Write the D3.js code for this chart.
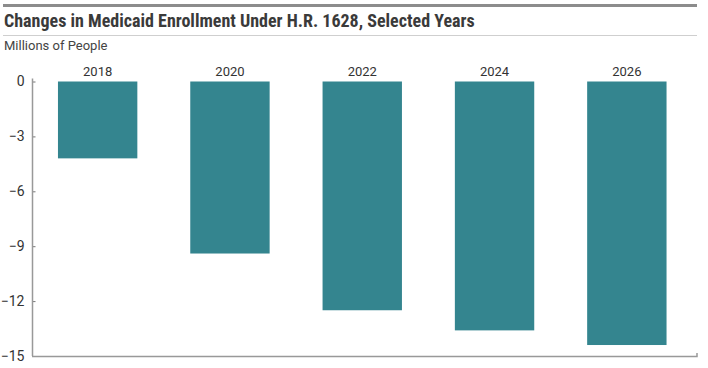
<!DOCTYPE html>
<html><head><meta charset="utf-8">
<script src="https://cdn.jsdelivr.net/npm/d3@7"></script>
<style>body{margin:0;background:#fff}svg{display:block}</style>
</head><body><svg id="c" width="708" height="368"></svg>
<script>
const years = ["2018","2020","2022","2024","2026"];
const changes = [-4.2,-9.4,-12.5,-13.6,-14.4];
const yTicks = [0,-3,-6,-9,-12,-15];
const title = "Changes in Medicaid Enrollment Under H.R. 1628, Selected Years";
const unitLabel = "Millions of People";

const svg = d3.select("#c");
svg.append("rect").attr("x",3).attr("y",4).attr("width",694).attr("height",3).attr("fill","#8c8c8c");
svg.append("text").attr("x",4).attr("y",27).text(title)
  .attr("font-family","'Liberation Sans Narrow','Roboto Condensed',Roboto,sans-serif")
  .attr("font-weight","bold").attr("font-size",18).attr("fill","#3a3a3a");
svg.append("line").attr("x1",3).attr("x2",697).attr("y1",35.5).attr("y2",35.5).attr("stroke","#cfcfcf");
svg.append("text").attr("x",4).attr("y",50).text(unitLabel)
  .attr("font-family","'Liberation Sans Narrow',Roboto,sans-serif").attr("font-size",13).attr("fill","#444");

const left = 32, right = 697;
const x = d3.scaleBand().domain(years).range([31.5,693]).paddingInner(0.4).paddingOuter(0.2);
const y = d3.scaleLinear().domain([-15,0]).range([356,81.5]);

const g = svg.append("g");
g.selectAll("rect.bar").data(years).join("rect").attr("class","bar")
  .attr("x",d=>x(d)).attr("width",x.bandwidth())
  .attr("y",y(0)).attr("height",(d,i)=>y(changes[i])-y(0))
  .attr("fill","#34858f");

g.selectAll("text.yr").data(years).join("text").attr("class","yr")
  .attr("x",d=>x(d)+x.bandwidth()/2).attr("y",76).attr("text-anchor","middle")
  .attr("font-family","'Liberation Sans Narrow',Roboto,sans-serif").attr("font-size",13).attr("fill","#333")
  .text(d=>d);

const yAxis = d3.axisLeft(y).tickValues(yTicks).tickSize(-3).tickPadding(8)
  .tickFormat(d=>d===0?"0":"\u2212"+Math.abs(d));
const ya = svg.append("g").attr("transform",`translate(${left+0.5},0)`).call(yAxis);
ya.select(".domain").remove();
ya.selectAll(".tick line").attr("stroke","#777");
ya.selectAll(".tick text").attr("font-family","'Liberation Sans Narrow',Roboto,sans-serif").attr("font-size",14).attr("fill","#333");
svg.append("line").attr("x1",left+0.5).attr("x2",left+0.5).attr("y1",y(0)-3).attr("y2",y(-15)).attr("stroke","#999").attr("stroke-width",1.5);
svg.append("path").attr("d",`M${left},${y(-15)+0.5}H${right}V${y(-15)-3}`).attr("fill","none").attr("stroke","#999").attr("stroke-width",1.5);
</script></body></html>
